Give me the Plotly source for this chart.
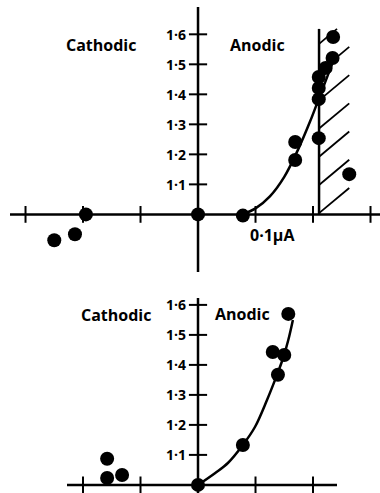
import plotly.graph_objects as go

# ---------------- data (current in µA, potential in V) ----------------
top_x = [-0.250, -0.214, -0.195, 0.0, 0.078, 0.169, 0.169, 0.210, 0.210, 0.210, 0.210, 0.222, 0.234, 0.235, 0.263]
top_y = [0.914, 0.934, 1.000, 1.0, 0.996, 1.241, 1.181, 1.254, 1.384, 1.421, 1.458, 1.488, 1.521, 1.591, 1.134]
top_curve_x = [0.077, 0.100, 0.125, 0.150, 0.175, 0.195, 0.210, 0.225, 0.238]
top_curve_y = [1.000, 1.020, 1.060, 1.125, 1.220, 1.310, 1.385, 1.460, 1.525]
hatch_x = [0.2105, 0.263]
hatch_y = [1.0, 1.618]

bot_x = [-0.158, -0.158, -0.132, 0.0, 0.078, 0.130, 0.150, 0.139, 0.157]
bot_y = [1.087, 1.023, 1.033, 1.0, 1.133, 1.443, 1.433, 1.367, 1.570]
bot_curve_x = [0.0, 0.030, 0.052, 0.078, 0.099, 0.120, 0.134, 0.148, 0.157, 0.165]
bot_curve_y = [1.0, 1.040, 1.073, 1.133, 1.193, 1.283, 1.350, 1.423, 1.483, 1.550]

top_xticks = [-0.3, -0.2, -0.1, 0.1, 0.2, 0.3]
bot_xticks = [-0.2, -0.1, 0.1, 0.2]
yticks = [1.1, 1.2, 1.3, 1.4, 1.5, 1.6]
ytick_labels = ["1·1", "1·2", "1·3", "1·4", "1·5", "1·6"]
x_unit_label = "0·1µA"
x_unit_value = 0.1
side_labels = ["Cathodic", "Anodic"]

# hatch style (spacing in V along the boundary, slope in V per µA)
HATCH_STEP = 0.094
HATCH_SLOPE = 1.6
HATCH_OFFSET = 0.004

W, H = 380, 493
FONT = "Open Sans"
BLACK = "#000000"

fig = go.Figure()

def panel(xs, ys, cx, cy, xticks, xa, ya):
    fig.add_trace(go.Scatter(x=cx, y=cy, mode="lines", line=dict(color=BLACK, width=2.5, shape="spline"),
                             xaxis=xa, yaxis=ya, hoverinfo="skip"))
    fig.add_trace(go.Scatter(x=xticks, y=[1.0] * len(xticks), mode="markers",
                             marker=dict(symbol="line-ns", size=12, line=dict(color=BLACK, width=2)),
                             xaxis=xa, yaxis=ya, hoverinfo="skip"))
    fig.add_trace(go.Scatter(x=[0] * len(yticks), y=yticks, mode="markers",
                             marker=dict(symbol="line-ew", size=13, line=dict(color=BLACK, width=2)),
                             xaxis=xa, yaxis=ya, hoverinfo="skip"))
    fig.add_trace(go.Scatter(x=xs, y=ys, mode="markers",
                             marker=dict(symbol="circle", size=14, color=BLACK),
                             xaxis=xa, yaxis=ya, cliponaxis=False))

# hatched region (top panel): diagonal lines clipped to the rectangle
x0, x1 = hatch_x
y0, y1 = hatch_y
hx, hy = [], []
k = -3
while True:
    yl = y0 + HATCH_OFFSET + k * HATCH_STEP          # intercept on the left boundary
    if yl > y1:
        break
    yr = yl + HATCH_SLOPE * (x1 - x0)
    xa_, ya_ = x0, yl
    xb_, yb_ = x1, yr
    if ya_ < y0:
        xa_ = x0 + (y0 - yl) / HATCH_SLOPE
        ya_ = y0
    if yb_ > y1:
        xb_ = x0 + (y1 - yl) / HATCH_SLOPE
        yb_ = y1
    if xa_ < xb_:
        hx += [xa_, xb_, None]
        hy += [ya_, yb_, None]
    k += 1
fig.add_trace(go.Scatter(x=hx, y=hy, mode="lines", line=dict(color=BLACK, width=1.8),
                         xaxis="x", yaxis="y", hoverinfo="skip"))
fig.add_trace(go.Scatter(x=[x0, x0], y=hatch_y, mode="lines",
                         line=dict(color=BLACK, width=2.5), xaxis="x", yaxis="y", hoverinfo="skip"))

panel(top_x, top_y, top_curve_x, top_curve_y, top_xticks, "x", "y")
panel(bot_x, bot_y, bot_curve_x, bot_curve_y, bot_xticks, "x2", "y2")

for xr, yr in [("x", "y"), ("x2", "y2")]:
    fig.add_shape(type="line", xref=xr + " domain", x0=0, x1=1, yref=yr, y0=1.0, y1=1.0,
                  line=dict(color=BLACK, width=2.5), layer="below")
    fig.add_shape(type="line", xref=xr, x0=0, x1=0, yref=yr + " domain", y0=0, y1=1,
                  line=dict(color=BLACK, width=2.5), layer="below")

ann = []
for xr, yr in [("x", "y"), ("x2", "y2")]:
    for v, t in zip(yticks, ytick_labels):
        ann.append(dict(x=0, y=v, xref=xr, yref=yr, text=t, showarrow=False, xanchor="right",
                        yanchor="middle", xshift=-10, font=dict(family=FONT, size=14, color=BLACK, weight=700)))

lab_font = dict(family=FONT, size=16, color=BLACK, weight=700)
ann.append(dict(x=-0.169, y=1.564, xref="x", yref="y", text=side_labels[0], showarrow=False, font=lab_font))
ann.append(dict(x=0.104, y=1.564, xref="x", yref="y", text=side_labels[1], showarrow=False, font=lab_font))
ann.append(dict(x=-0.143, y=1.567, xref="x2", yref="y2", text=side_labels[0], showarrow=False, font=lab_font))
ann.append(dict(x=0.077, y=1.570, xref="x2", yref="y2", text=side_labels[1], showarrow=False, font=lab_font))
ann.append(dict(x=x_unit_value, y=1.0, xref="x", yref="y", text=x_unit_label, showarrow=False,
                xanchor="left", yanchor="top", xshift=-8, yshift=-8, font=lab_font))

ax_common = dict(showgrid=False, zeroline=False, showline=False, showticklabels=False, ticks="", fixedrange=True)

fig.update_layout(
    width=W, height=H, margin=dict(l=0, r=0, t=0, b=0),
    paper_bgcolor="white", plot_bgcolor="white", showlegend=False,
    xaxis=dict(domain=[10 / W, 1.0], range=[-0.327, 0.3165], anchor="y", **ax_common),
    yaxis=dict(domain=[1 - 272 / H, 1 - 7 / H], range=[0.808, 1.691], anchor="x", **ax_common),
    xaxis2=dict(domain=[67 / W, 337 / W], range=[-0.2278, 0.2417], anchor="y2", **ax_common),
    yaxis2=dict(domain=[0.0, 1 - 298 / H], range=[0.973, 1.623], anchor="x2", **ax_common),
    annotations=ann,
)

fig.write_html("out.html")
